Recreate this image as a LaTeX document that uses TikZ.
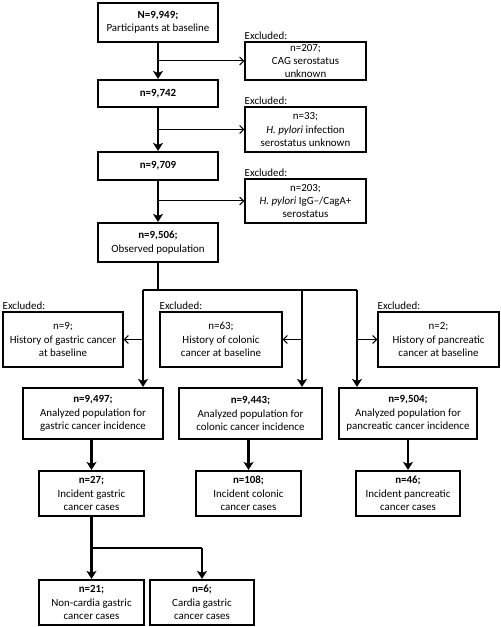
\documentclass[tikz,border=0pt]{standalone}
\usepackage{fontspec}
\setmainfont{Carlito}
\usetikzlibrary{arrows.meta}

\tikzset{
  mainbox/.style={draw, line width=1.6pt, align=center, inner xsep=2pt, inner ysep=0pt,
    font=\fontsize{8.2}{10}\selectfont},
  exbox/.style={draw, line width=0.9pt, align=center, inner xsep=2pt, inner ysep=0pt,
    font=\fontsize{8.2}{10}\selectfont},
  exlabel/.style={anchor=south west, inner xsep=0pt, inner ysep=1pt,
    font=\fontsize{8.2}{10}\selectfont},
  mainline/.style={line width=1.7pt},
  mainarrow/.style={line width=1.7pt, -{Stealth[length=6pt,width=7.5pt,inset=1.5pt]}},
  sidearrow/.style={line width=0.75pt, -{Straight Barb[length=3pt,width=6pt]}}
}

\begin{document}
\begin{tikzpicture}[x=0.75pt, y=-0.75pt]
    \useasboundingbox (0,0) rectangle (500,627);

    % screening steps
    \node[mainbox, minimum width=90pt, minimum height=29.25pt] (start) at (158,22.5) {\textbf{N=9,949;}\\Participants at baseline};
    \node[mainbox, minimum width=90pt, minimum height=20.25pt] (step1) at (158,93.5) {\textbf{n=9,742}};
    \node[mainbox, minimum width=90pt, minimum height=21pt] (step2) at (158,166) {\textbf{n=9,709}};
    \node[mainbox, minimum width=90pt, minimum height=29.25pt] (obs) at (158,242.5) {\textbf{n=9,506;}\\Observed population};

    \node[exbox, minimum width=90.75pt, minimum height=28.5pt] (ex1) at (305.5,61) {n=207;\\CAG serostatus\\unknown};
    \node[exbox, minimum width=90.75pt, minimum height=33.75pt] (ex2) at (305.5,129.5) {n=33;\\\textit{H. pylori} infection\\serostatus unknown};
    \node[exbox, minimum width=90.75pt, minimum height=33pt] (ex3) at (305.5,201) {n=203;\\\textit{H. pylori} IgG\textendash/CagA+\\serostatus};
    \node[exlabel] (lab1) at (ex1.north west) {Excluded:};
    \node[exlabel] (lab2) at (ex2.north west) {Excluded:};
    \node[exlabel] (lab3) at (ex3.north west) {Excluded:};

    \draw[mainarrow] (start.south) -- (step1.north);
    \draw[mainarrow] (step1.south) -- (step2.north);
    \draw[mainarrow] (step2.south) -- (obs.north);
    \draw[sidearrow] (start.south |- ex1.west) -- (ex1.west);
    \draw[sidearrow] (step1.south |- ex2.west) -- (ex2.west);
    \draw[sidearrow] (step2.south |- ex3.west) -- (ex3.west);

    % three cancer sites
    \coordinate (jg) at (143,290);
    \coordinate (jc) at (302,290);
    \coordinate (jp) at (357,290);

    \node[exbox, minimum width=90pt, minimum height=41.25pt] (exg) at (63,339.5) {n=9;\\History of gastric cancer\\at baseline};
    \node[exbox, minimum width=91.5pt, minimum height=41.25pt] (exc) at (221,339.5) {n=63;\\History of colonic\\cancer at baseline};
    \node[exbox, minimum width=90.75pt, minimum height=41.25pt] (exp) at (438.5,339.5) {n=2;\\History of pancreatic\\cancer at baseline};
    \node[exlabel] (lab4) at (exg.north west) {Excluded:};
    \node[exlabel] (lab5) at (exc.north west) {Excluded:};
    \node[exlabel] (lab6) at (exp.north west) {Excluded:};

    \node[mainbox, minimum width=105pt, minimum height=38.25pt] (ang) at (93,413.5) {\textbf{n=9,497;}\\Analyzed population for\\gastric cancer incidence};
    \node[mainbox, minimum width=107.25pt, minimum height=38.25pt] (anc) at (250.5,413.5) {\textbf{n=9,443;}\\Analyzed population for\\colonic cancer incidence};
    \node[mainbox, minimum width=103.5pt, minimum height=38.25pt] (anp) at (408,413.5) {\textbf{n=9,504;}\\Analyzed population for\\pancreatic cancer incidence};

    \draw[mainline] (obs.south) -- (obs.south |- jg);
    \draw[mainline] (jg) -- (jp);
    \draw[mainarrow] (jg) -- (jg |- ang.north);
    \draw[mainarrow] (jc) -- (jc |- anc.north);
    \draw[mainarrow] (jp) -- (jp |- anp.north);
    \draw[sidearrow] (jg |- exg.east) -- (exg.east);
    \draw[sidearrow] (jc |- exc.east) -- (exc.east);
    \draw[sidearrow] (jp |- exp.west) -- (exp.west);

    % incident cases
    \node[mainbox, minimum width=78.75pt, minimum height=33.75pt] (ing) at (91.5,493.5) {\textbf{n=27;}\\Incident gastric\\cancer cases};
    \node[mainbox, minimum width=78.75pt, minimum height=33.75pt] (inc) at (248.5,493.5) {\textbf{n=108;}\\Incident colonic\\cancer cases};
    \node[mainbox, minimum width=78pt, minimum height=33.75pt] (inp) at (408,493.5) {\textbf{n=46;}\\Incident pancreatic\\cancer cases};

    \draw[mainarrow] (ing.north |- ang.south) -- (ing.north);
    \draw[mainarrow] (inc.north |- anc.south) -- (inc.north);
    \draw[mainarrow] (inp.north |- anp.south) -- (inp.north);

    % gastric subsites
    \node[mainbox, minimum width=78.75pt, minimum height=33.75pt] (ncg) at (91.5,602.5) {\textbf{n=21;}\\Non-cardia gastric\\cancer cases};
    \node[mainbox, minimum width=78pt, minimum height=33.75pt] (cg) at (202,602.5) {\textbf{n=6;}\\Cardia gastric\\cancer cases};
    \coordinate (jn) at (91.5,548);
    \coordinate (jk) at (202,548);

    \draw[mainline] (ing.south) -- (jn) -- (jk);
    \draw[mainarrow] (jn) -- (ncg.north);
    \draw[mainarrow] (jk) -- (cg.north);
\end{tikzpicture}
\end{document}
